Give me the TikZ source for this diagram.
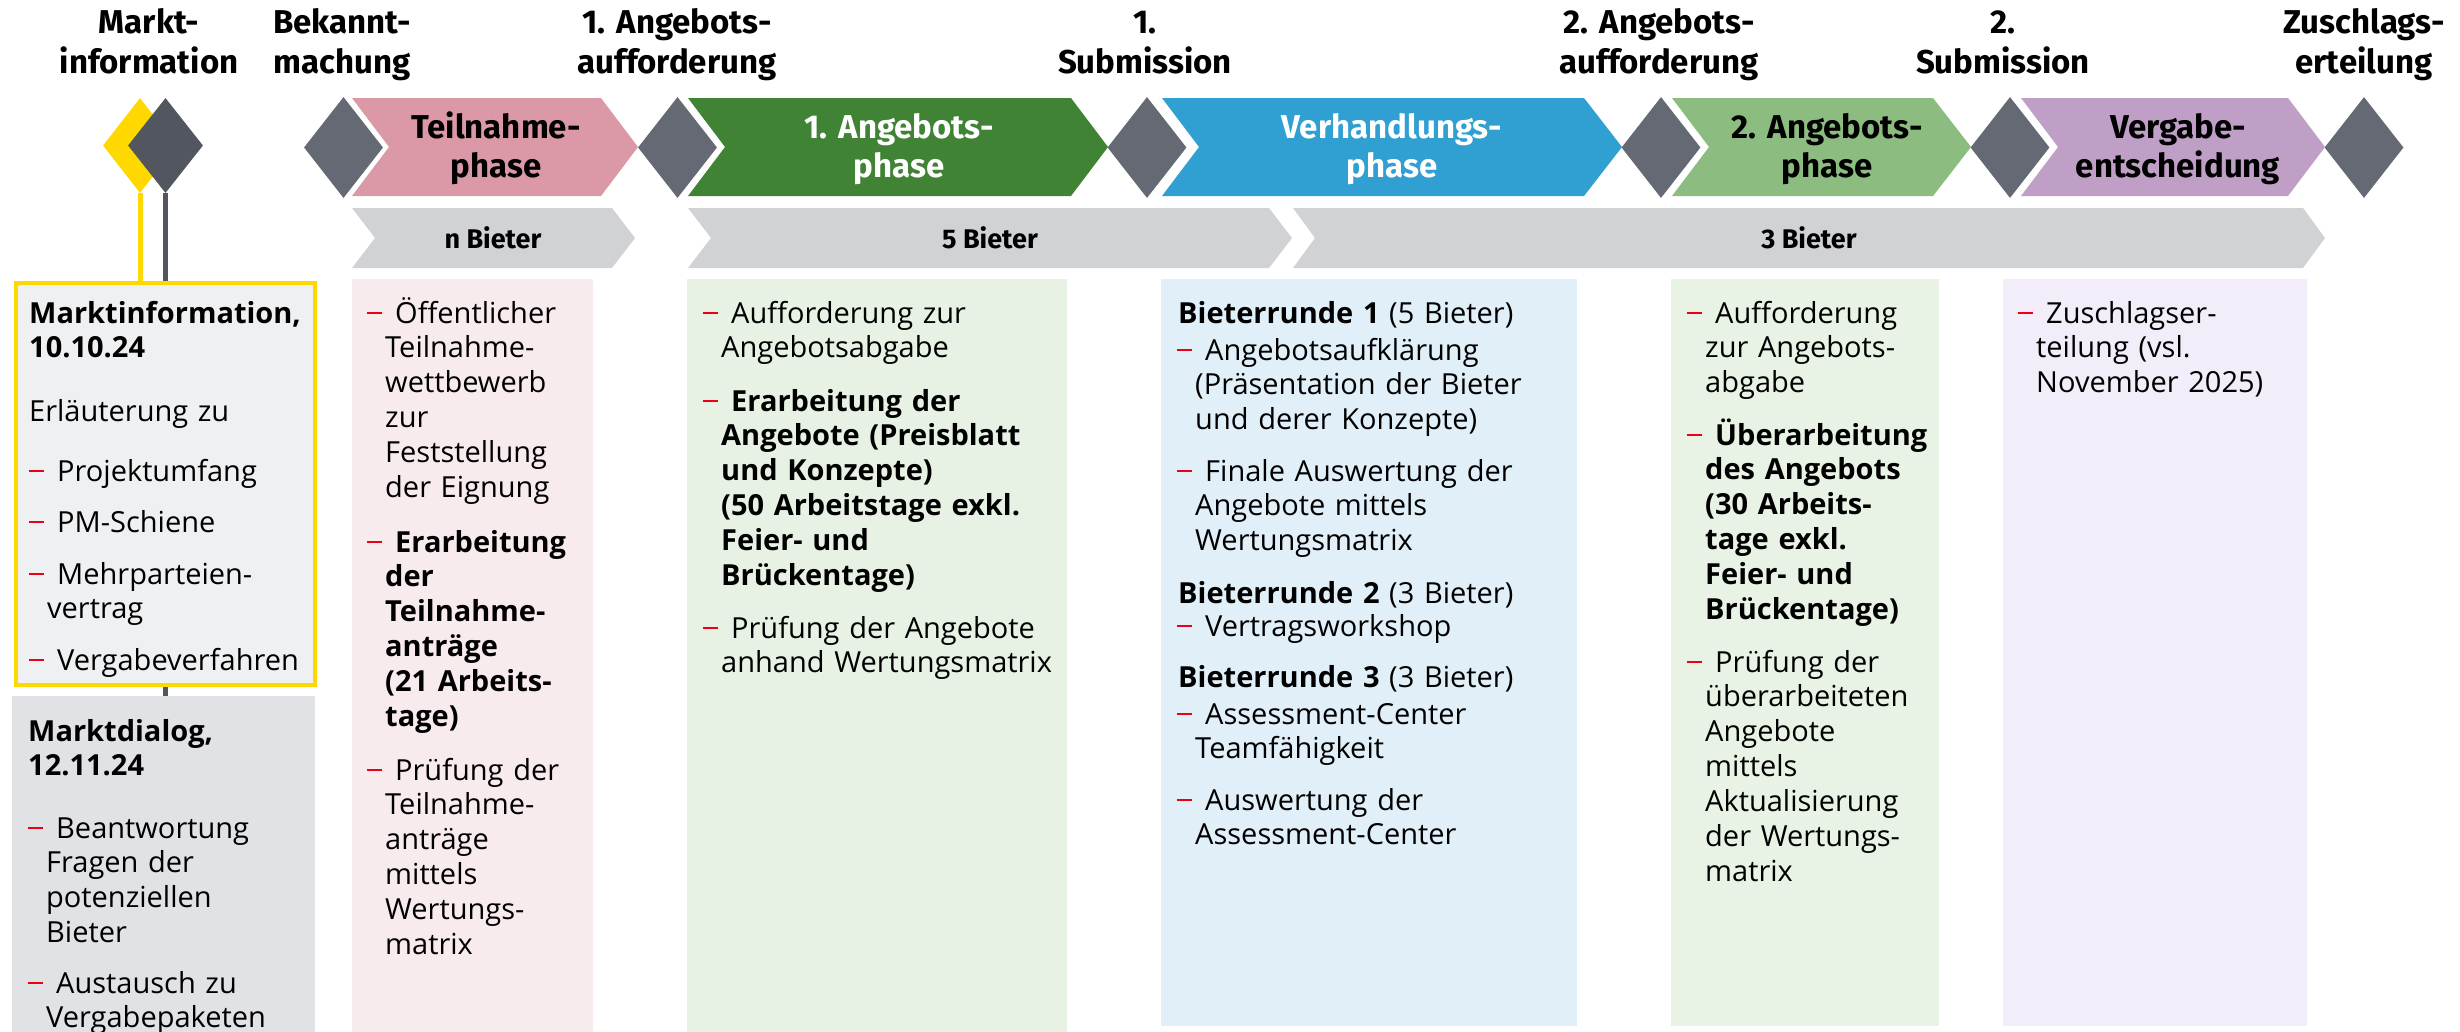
\documentclass[tikz,border=0pt]{standalone}
\usepackage{fontspec}
\setmainfont{Open Sans}
\newfontfamily\headfont{Fira Sans}
\usetikzlibrary{shapes.geometric}
\frenchspacing

\definecolor{dbyellow}{HTML}{FFD800}
\definecolor{dbred}{HTML}{EC0016}
\definecolor{mkgray}{HTML}{51565F}
\definecolor{msgray}{HTML}{646973}
\definecolor{phpink}{HTML}{DB98A6}
\definecolor{phgreen}{HTML}{408335}
\definecolor{phblue}{HTML}{309FD1}
\definecolor{phlgreen}{HTML}{8CBC80}
\definecolor{phviolet}{HTML}{C09FC7}
\definecolor{bietergray}{HTML}{D0D2D6}
\definecolor{bgyellowbox}{HTML}{EFF0F2}
\definecolor{bggraybox}{HTML}{E1E2E6}
\definecolor{bgpink}{HTML}{F8EBEE}
\definecolor{bggreen}{HTML}{E7F2E5}
\definecolor{bgblue}{HTML}{E1EFF8}
\definecolor{bglgreen}{HTML}{E8F2E5}
\definecolor{bgviolet}{HTML}{F2EDF8}

% red bullet dash and hanging indent for continuation lines
\newcommand\rdash{\textcolor{dbred}{\rule[9pt]{15pt}{1.6pt}}\hspace{13pt}}
\newcommand\cont{\\\hspace*{18pt}}

\tikzset{
  headlbl/.style={font=\headfont\bfseries\frenchspacing\fontsize{33}{40}\selectfont, text width=300pt,
    align=center, inner sep=0pt, anchor=base},
  phaselbl/.style={font=\headfont\bfseries\frenchspacing\fontsize{33}{39}\selectfont, text width=300pt,
    align=center, inner sep=0pt, anchor=base},
  bieterlbl/.style={font=\headfont\bfseries\fontsize{27}{32}\selectfont, inner sep=0pt, anchor=base},
  para/.style={font=\frenchspacing\fontsize{29}{34.9}\selectfont, text width=400pt, align=left,
    inner sep=0pt, anchor=base west},
  milestone/.style={diamond, fill=msgray, draw=none, inner sep=0pt,
    minimum width=79pt, minimum height=101pt},
  column/.style={draw=none, inner sep=0pt, anchor=north west},
}

\begin{document}
\begin{tikzpicture}[x=1pt, y=-1pt]
\useasboundingbox (0,0) rectangle (2460,1031);
\fill[white] (0,0) rectangle (2460,1031);

% ---------- milestones ----------
\node[diamond, fill=dbyellow, inner sep=0pt, minimum width=74pt, minimum height=95pt] (dmy) at (140,145.5) {};
\node[diamond, fill=mkgray, inner sep=0pt, minimum width=75pt, minimum height=95pt] (dmg) at (165.5,145.5) {};
\node[milestone] (d1) at (343.5,147.5) {};
\node[milestone] (d2) at (677.5,147.5) {};
\node[milestone] (d3) at (1147,147.5) {};
\node[milestone] (d4) at (1661,147.5) {};
\node[milestone] (d5) at (2010,147.5) {};
\node[milestone] (d6) at (2364,147.5) {};

% ---------- milestone labels ----------
\node[headlbl] (h0) at (149,33) {Markt-\\information};
\node[headlbl] (h1) at (342,33) {Bekannt-\\machung};
\node[headlbl] (h2) at (677,33) {1. Angebots-\\aufforderung};
\node[headlbl] (h3) at (1145,33) {1.\\Submission};
\node[headlbl] (h4) at (1659,33) {2. Angebots-\\aufforderung};
\node[headlbl] (h5) at (2003,33) {2.\\Submission};
\node[headlbl] (h6) at (2364,33) {Zuschlags-\\erteilung};

% ---------- phase chevrons ----------
\fill[phpink]   (352,98) -- (601,98) -- (638,147) -- (601,196) -- (352,196) -- (389,147) -- cycle;
\fill[phgreen]  (688,98) -- (1071,98) -- (1108,147) -- (1071,196) -- (688,196) -- (725,147) -- cycle;
\fill[phblue]   (1162,98) -- (1584,98) -- (1622,147) -- (1584,196) -- (1162,196) -- (1199,147) -- cycle;
\fill[phlgreen] (1672,98) -- (1933,98) -- (1971,147) -- (1933,196) -- (1672,196) -- (1709,147) -- cycle;
\fill[phviolet] (2021,98) -- (2288,98) -- (2325,147) -- (2288,196) -- (2021,196) -- (2058,147) -- cycle;

\node[phaselbl] (p1) at (496,138) {Teilnahme-\\phase};
\node[phaselbl, text=white] (p2) at (899,138) {1. Angebots-\\phase};
\node[phaselbl, text=white] (p3) at (1392,138) {Verhandlungs-\\phase};
\node[phaselbl] (p4) at (1827,138) {2. Angebots-\\phase};
\node[phaselbl] (p5) at (2178,138) {Vergabe-\\entscheidung};

% ---------- bidder chevrons ----------
\fill[bietergray] (352,208) -- (612,208) -- (635,238) -- (612,268) -- (352,268) -- (375,238) -- cycle;
\fill[bietergray] (688,208) -- (1269,208) -- (1292,238) -- (1269,268) -- (688,268) -- (711,238) -- cycle;
\fill[bietergray] (1293,208) -- (2303,208) -- (2325,238) -- (2303,268) -- (1293,268) -- (1315,238) -- cycle;
\node[bieterlbl] (b1) at (493,248) {n Bieter};
\node[bieterlbl] (b2) at (990,248) {5 Bieter};
\node[bieterlbl] (b3) at (1809,248) {3 Bieter};

% ---------- columns ----------
\node[column, fill=bggraybox, minimum width=303pt, minimum height=340pt] (gbox) at (12,696) {};
\draw[mkgray, line width=5pt] (dmg.south) -- (dmg.south |- gbox.north);
\node[column, fill=bgyellowbox, draw=dbyellow, line width=3.5pt, minimum width=299pt,
      minimum height=402pt] (ybox) at (14,281) {};
\draw[dbyellow, line width=5pt] (dmy.south) -- (dmy.south |- ybox.north);

\node[column, fill=bgpink,   minimum width=241pt, minimum height=760pt] (cpink)   at (352,279) {};
\node[column, fill=bggreen,  minimum width=380pt, minimum height=760pt] (cgreen)  at (687,279) {};
\node[column, fill=bgblue,   minimum width=416pt, minimum height=747pt] (cblue)   at (1161,279) {};
\node[column, fill=bglgreen, minimum width=268pt, minimum height=747pt] (clgreen) at (1671,279) {};
\node[column, fill=bgviolet, minimum width=304pt, minimum height=747pt] (cviolet) at (2003,279) {};

% ---------- market information ----------
\node[para] (ya) at (29,323) {\bfseries Marktinformation,\\10.10.24};
\node[para] (yb) at (29,421) {Erläuterung zu};
\node[para] (yc) at (29,481) {\rdash Projektumfang};
\node[para] (yd) at (29,532) {\rdash PM-Schiene};
\node[para] (ye) at (29,584) {\rdash Mehrparteien-\cont vertrag};
\node[para] (yf) at (29,670) {\rdash Vergabeverfahren};

\node[para] (ga) at (28,741) {\bfseries Marktdialog,\\12.11.24};
\node[para] (gb) at (28,838) {\rdash Beantwortung\cont Fragen der\cont potenziellen\cont Bieter};
\node[para] (gc) at (28,993) {\rdash Austausch zu\cont Vergabepaketen};

% ---------- participation phase ----------
\node[para] (pa) at (367,323) {\rdash Öffentlicher\cont Teilnahme-\cont wettbewerb\cont zur\cont Feststellung\cont der Eignung};
\node[para] (pb) at (367,552) {\rdash{\bfseries Erarbeitung\cont der\cont Teilnahme-\cont anträge\cont (21 Arbeits-\cont tage)}};
\node[para] (pc) at (367,780) {\rdash Prüfung der\cont Teilnahme-\cont anträge\cont mittels\cont Wertungs-\cont matrix};

% ---------- first offer phase ----------
\node[para] (ea) at (703,323) {\rdash Aufforderung zur\cont Angebotsabgabe};
\node[para] (eb) at (703,411) {\rdash{\bfseries Erarbeitung der\cont Angebote (Preisblatt\cont und Konzepte)\cont (50 Arbeitstage exkl.\cont Feier- und\cont Brückentage)}};
\node[para] (ec) at (703,638) {\rdash Prüfung der Angebote\cont anhand Wertungsmatrix};

% ---------- negotiation phase ----------
\node[para] (va) at (1178,323) {{\bfseries Bieterrunde 1} (5 Bieter)};
\node[para] (vb) at (1177,360) {\rdash Angebotsaufklärung\cont (Präsentation der Bieter\cont und derer Konzepte)};
\node[para] (vc) at (1177,481) {\rdash Finale Auswertung der\cont Angebote mittels\cont Wertungsmatrix};
\node[para] (vd) at (1178,603) {{\bfseries Bieterrunde 2} (3 Bieter)};
\node[para] (ve) at (1177,636) {\rdash Vertragsworkshop};
\node[para] (vf) at (1178,687) {{\bfseries Bieterrunde 3} (3 Bieter)};
\node[para] (vg) at (1177,724) {\rdash Assessment-Center\cont Teamfähigkeit};
\node[para] (vh) at (1177,810) {\rdash Auswertung der\cont Assessment-Center};

% ---------- second offer phase ----------
\node[para] (za) at (1687,323) {\rdash Aufforderung\cont zur Angebots-\cont abgabe};
\node[para] (zb) at (1687,445) {\rdash{\bfseries Überarbeitung\cont des Angebots\cont (30 Arbeits-\cont tage exkl.\cont Feier- und\cont Brückentage)}};
\node[para] (zc) at (1687,672) {\rdash Prüfung der\cont überarbeiteten\cont Angebote\cont mittels\cont Aktualisierung\cont der Wertungs-\cont matrix};

% ---------- award decision ----------
\node[para] (aa) at (2018,323) {\rdash Zuschlagser-\cont teilung (vsl.\cont November 2025)};
\end{tikzpicture}
\end{document}
